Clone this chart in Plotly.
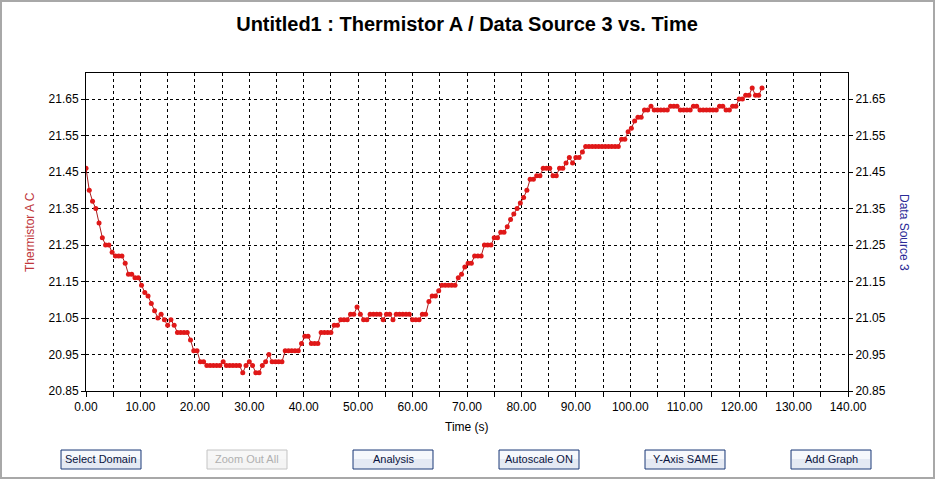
import plotly.graph_objects as go

# ---- data -------------------------------------------------------------
sample_interval = 0.6  # seconds between logged samples
temperature_c = [
    21.46, 21.40, 21.37, 21.35, 21.31, 21.27, 21.25, 21.25, 21.23, 21.22,
    21.22, 21.22, 21.20, 21.17, 21.17, 21.16, 21.16, 21.14, 21.12, 21.11,
    21.09, 21.07, 21.05, 21.06, 21.045, 21.03, 21.045, 21.03, 21.01, 21.01,
    21.01, 21.01, 20.99, 20.96, 20.96, 20.93, 20.93, 20.92, 20.92, 20.92,
    20.92, 20.92, 20.93, 20.92, 20.92, 20.92, 20.92, 20.92, 20.90, 20.92,
    20.93, 20.92, 20.90, 20.90, 20.92, 20.93, 20.95, 20.93, 20.93, 20.93,
    20.93, 20.96, 20.96, 20.96, 20.96, 20.96, 20.98, 21.00, 21.00, 20.98,
    20.98, 20.98, 21.01, 21.01, 21.01, 21.01, 21.03, 21.03, 21.045, 21.045,
    21.045, 21.06, 21.06, 21.08, 21.06, 21.045, 21.045, 21.06, 21.06, 21.06,
    21.06, 21.045, 21.06, 21.06, 21.045, 21.06, 21.06, 21.06, 21.06, 21.06,
    21.045, 21.045, 21.045, 21.06, 21.06, 21.095, 21.11, 21.11, 21.125, 21.14,
    21.14, 21.14, 21.14, 21.14, 21.16, 21.17, 21.19, 21.20, 21.20, 21.22,
    21.22, 21.22, 21.25, 21.25, 21.25, 21.27, 21.27, 21.285, 21.285, 21.30,
    21.32, 21.335, 21.35, 21.365, 21.38, 21.40, 21.43, 21.43, 21.44, 21.44,
    21.46, 21.46, 21.46, 21.44, 21.44, 21.46, 21.46, 21.475, 21.49, 21.475,
    21.49, 21.49, 21.505, 21.52, 21.52, 21.52, 21.52, 21.52, 21.52, 21.52,
    21.52, 21.52, 21.52, 21.52, 21.54, 21.54, 21.56, 21.57, 21.59, 21.60,
    21.60, 21.62, 21.62, 21.63, 21.62, 21.62, 21.62, 21.62, 21.62, 21.63,
    21.63, 21.63, 21.62, 21.62, 21.62, 21.62, 21.63, 21.63, 21.62, 21.62,
    21.62, 21.62, 21.62, 21.62, 21.63, 21.63, 21.62, 21.62, 21.63, 21.63,
    21.65, 21.65, 21.66, 21.66, 21.68, 21.66, 21.66, 21.68,
]
time_s = [round(i * sample_interval, 1) for i in range(len(temperature_c))]

title_text = "Untitled1 : Thermistor A / Data Source 3 vs. Time"
x_title = "Time (s)"
y_left_title = "Thermistor A C"
y_right_title = "Data Source 3"
button_labels = ["Select Domain", "Zoom Out All", "Analysis",
                 "Autoscale ON", "Y-Axis SAME", "Add Graph"]

# ---- layout geometry ---------------------------------------------------
W, H = 935, 480
L, R, T, B = 86, 848, 73, 391
PW, PH = R - L, B - T


def px(x):
    return (x - L) / PW


def py(y):
    return (B - y) / PH


FONT = "Arial, Liberation Sans, sans-serif"

fig = go.Figure()
fig.add_trace(go.Scatter(
    x=time_s, y=temperature_c, mode="lines+markers",
    line=dict(color="#a81c1c", width=1),
    marker=dict(color="#e01818", size=5, line=dict(width=0)),
    showlegend=False, hoverinfo="x+y",
))
# invisible copy so the right-hand axis is drawn
fig.add_trace(go.Scatter(
    x=time_s, y=temperature_c, yaxis="y2", mode="lines",
    line=dict(width=0), opacity=0, showlegend=False, hoverinfo="skip",
))

yrange = [20.85, 20.85 + PH / 365.0]
grid_common = dict(showgrid=True, gridcolor="#000000", gridwidth=1, griddash="3px,3px")

fig.update_layout(
    width=W, height=H,
    margin=dict(l=L, r=W - R, t=T, b=H - B, pad=0, autoexpand=False),
    paper_bgcolor="white", plot_bgcolor="white",
    font=dict(family=FONT, size=12, color="black"),
    title=dict(text="<b>" + title_text + "</b>", x=0.5, xanchor="center",
               xref="paper", y=1 - 24 / H, yanchor="middle",
               font=dict(family=FONT, size=20, color="black")),
    xaxis=dict(range=[0, 140], tick0=0, dtick=10, tickformat=".2f",
               ticks="outside", ticklen=5, tickcolor="black",
               showline=True, linecolor="black", linewidth=1, mirror=True,
               zeroline=False, **grid_common,
               minor=dict(dtick=5, tick0=0, ticks="outside", ticklen=5,
                          tickcolor="black", showgrid=True, gridcolor="#000000",
                          griddash="3px,3px", gridwidth=1),
               tickfont=dict(family=FONT, size=12, color="black")),
    yaxis=dict(range=yrange, tick0=20.85, dtick=0.1, tickformat=".2f",
               ticks="outside", ticklen=4, tickcolor="black",
               showline=True, linecolor="black", linewidth=1, mirror=True,
               zeroline=False, **grid_common,
               tickfont=dict(family=FONT, size=12, color="black")),
    yaxis2=dict(range=yrange, tick0=20.85, dtick=0.1, tickformat=".2f",
                overlaying="y", side="right", ticks="outside", ticklen=4,
                tickcolor="black", showline=True, linecolor="black",
                showgrid=False, zeroline=False,
                tickfont=dict(family=FONT, size=12, color="black")),
)

annotations = [
    dict(text=x_title, x=px(467), y=py(427), xref="paper", yref="paper",
         xanchor="center", yanchor="middle",
         showarrow=False, font=dict(family=FONT, size=12, color="black")),
    dict(text=y_left_title, x=px(30), y=py(232), xref="paper", yref="paper",
         xanchor="center", yanchor="middle",
         showarrow=False, textangle=-90,
         font=dict(family=FONT, size=12, color="#c0373c")),
    dict(text=y_right_title, x=px(904), y=py(232), xref="paper", yref="paper",
         xanchor="center", yanchor="middle",
         showarrow=False, textangle=90,
         font=dict(family=FONT, size=12, color="#2a2a96")),
]

shapes = [
    # window frame
    dict(type="rect", xref="paper", yref="paper",
         x0=px(1), x1=px(934), y0=py(1), y1=py(478),
         line=dict(color="#a8a8a8", width=2), fillcolor="rgba(0,0,0,0)", layer="below"),
]

button_left = [61, 207, 353, 499, 645, 791]
bw, by0, by1 = 80, 450, 469
for lbl, x0 in zip(button_labels, button_left):
    disabled = lbl == "Zoom Out All"
    border = "#c4c4c4" if disabled else "#1c3a78"
    shapes.append(dict(type="rect", xref="paper", yref="paper",
                       x0=px(x0), x1=px(x0 + bw), y0=py(by1), y1=py(by0),
                       line=dict(color=border, width=1),
                       fillcolor="#f4f4f4" if disabled else "#e4e9f3"))
    shapes.append(dict(type="rect", xref="paper", yref="paper",
                       x0=px(x0 + 1), x1=px(x0 + bw - 1), y0=py(459), y1=py(by0 + 1),
                       line=dict(width=0),
                       fillcolor="#f7f7f7" if disabled else "#f6f8fc"))
    annotations.append(dict(text=lbl, x=px(x0 + bw / 2), y=py(459.5),
                            xref="paper", yref="paper", showarrow=False,
                            xanchor="center", yanchor="middle",
                            font=dict(family=FONT, size=11,
                                      color="#b0b0b0" if disabled else "#0a1440")))

fig.update_layout(annotations=annotations, shapes=shapes)
fig.write_html("out.html", config={"displayModeBar": False},
               post_script="document.body.style.margin='0';document.body.style.overflow='hidden';")
